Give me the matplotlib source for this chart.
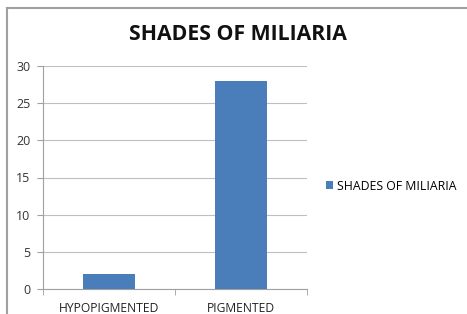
import matplotlib
matplotlib.use("Agg")
import matplotlib.pyplot as plt
from matplotlib.lines import Line2D

categories = ["HYPOPIGMENTED", "PIGMENTED"]
values = [2, 28]
series_name = "SHADES OF MILIARIA"
yticks = [0, 5, 10, 15, 20, 25, 30]

plt.rcParams['font.family'] = ['Open Sans', 'DejaVu Sans']

W, H = 467, 314
fig = plt.figure(figsize=(W/100, H/100), dpi=100)
fig.patch.set_facecolor('white')

# chart border (top and left visible)
fig.add_artist(Line2D([7/W, 7/W], [0, 1 - 8/H], transform=fig.transFigure, color='#a0a0a0', lw=1.5))
fig.add_artist(Line2D([7/W, 1], [1 - 8/H, 1 - 8/H], transform=fig.transFigure, color='#a0a0a0', lw=1.5))

left, right = 43/W, 307/W
bottom, top = 1 - 289/H, 1 - 66/H
ax = fig.add_axes([left, bottom, right - left, top - bottom])

x = list(range(len(categories)))
ax.bar(x, values, width=0.4, color='#4a7ebb', label=series_name, zorder=3)
ax.set_xlim(-0.5, len(categories) - 0.5)
ax.set_ylim(0, 30)
ax.set_yticks(yticks)
ax.set_yticklabels([str(v) for v in yticks], fontsize=9, color='#333333')
ax.grid(axis='y', color='#bfbfbf', lw=0.8, zorder=0)

ax.set_xticks(x)
ax.set_xticklabels(categories, fontsize=8.7, color='#222222')
ax.tick_params(axis='x', length=0, pad=9)
ax.set_xticks([-0.5, 0.5, 1.5], minor=True)
ax.tick_params(axis='x', which='minor', length=4, color='#a0a0a0')
ax.tick_params(axis='y', length=4, color='#a0a0a0', pad=5)

for s in ['top', 'right']:
    ax.spines[s].set_visible(False)
for s in ['left', 'bottom']:
    ax.spines[s].set_color('#a0a0a0')
    ax.spines[s].set_linewidth(0.8)

fig.text(238/W, 1 - 35/H, "SHADES OF MILIARIA", ha='center', va='center',
         fontsize=15.3, fontweight='bold', color='#111111')

fig.legend(loc='center left', bbox_to_anchor=(326/W, 1 - 186/H), frameon=False,
           fontsize=8.8, handlelength=0.6, handleheight=0.6, handletextpad=0.3,
           borderaxespad=0, borderpad=0)

fig.savefig("out.png", dpi=100)
